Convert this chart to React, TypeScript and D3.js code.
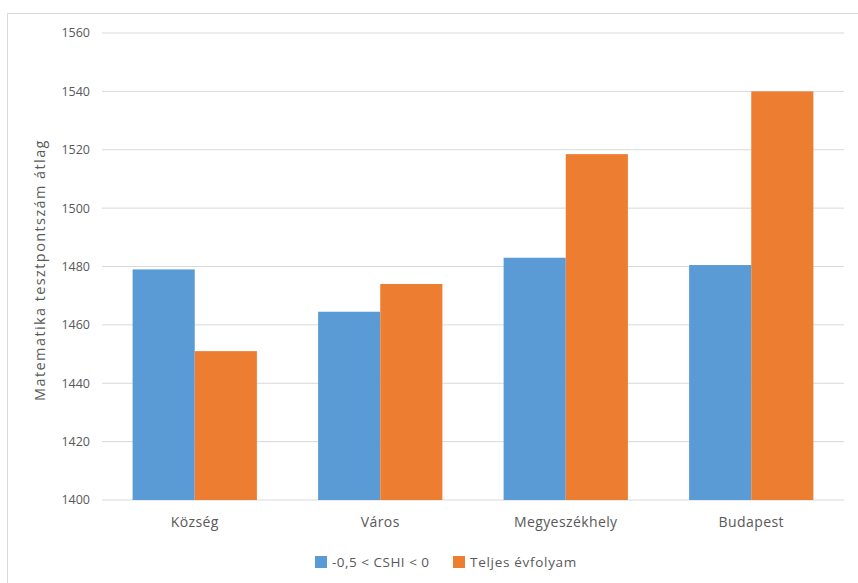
import React from "react";
import * as d3 from "d3";

const categories = ["Község", "Város", "Megyeszékhely", "Budapest"];
const seriesNames = ["-0,5 < CSHI < 0", "Teljes évfolyam"];
const seriesA = [1479, 1464.5, 1483, 1480.5];
const seriesB = [1451, 1474, 1518.5, 1540];
const yTicks = [1400, 1420, 1440, 1460, 1480, 1500, 1520, 1540, 1560];
const colors = ["#5B9BD5", "#ED7D31"];
const yTitle = "Matematika tesztpontszám átlag";

export default function App() {
  const W = 858, H = 583;
  const left = 102, right = 844, top = 33, bottom = 500;
  const x = d3.scaleBand<string>().domain(categories).range([left, right]).paddingInner(0.33).paddingOuter(0.165);
  const inner = d3.scaleBand<number>().domain([0, 1]).range([0, x.bandwidth()]);
  const y = d3.scaleLinear().domain([1400, 1560]).range([bottom, top]);
  const series = [seriesA, seriesB];
  const font = "'Open Sans', 'Liberation Sans', sans-serif";
  const txt = "#595959";
  return (
    <svg width={W} height={H} style={{ position: "absolute", left: 0, top: 0, background: "#fff" }} fontFamily={font}>
      <rect x={7.5} y={13.5} width={W} height={H} fill="#fff" stroke="#d9d9d9" strokeWidth={1} />
      {yTicks.map((t) => (
        <g key={t}>
          <line x1={left} x2={right} y1={y(t)} y2={y(t)} stroke="#d9d9d9" strokeWidth={1} />
          <text x={90} y={y(t)} dy="0.35em" textAnchor="end" fontSize={12.5} fill={txt}>{t}</text>
        </g>
      ))}
      {categories.map((c, i) => (
        <g key={c}>
          {series.map((s, j) => (
            <rect key={j} x={(x(c) as number) + (inner(j) as number)} y={y(s[i])} width={inner.bandwidth()} height={bottom - y(s[i])} fill={colors[j]} />
          ))}
          <text x={(x(c) as number) + x.bandwidth() / 2} y={522} dy="0.35em" textAnchor="middle" fontSize={14} letterSpacing={0.4} fill={txt}>{c}</text>
        </g>
      ))}
      <text transform={`translate(40,270) rotate(-90)`} dy="0.35em" textAnchor="middle" fontSize={14.5} letterSpacing={1.4} fill={txt}>{yTitle}</text>
      <g transform="translate(0,562)">
        <rect x={315} y={-6} width={12} height={12} fill={colors[0]} />
        <text x={332} y={0} dy="0.35em" fontSize={13.5} letterSpacing={0.5} fill={txt}>{seriesNames[0]}</text>
        <rect x={453} y={-6} width={12} height={12} fill={colors[1]} />
        <text x={470} y={0} dy="0.35em" fontSize={13.5} letterSpacing={0.7} fill={txt}>{seriesNames[1]}</text>
      </g>
    </svg>
  );
}
